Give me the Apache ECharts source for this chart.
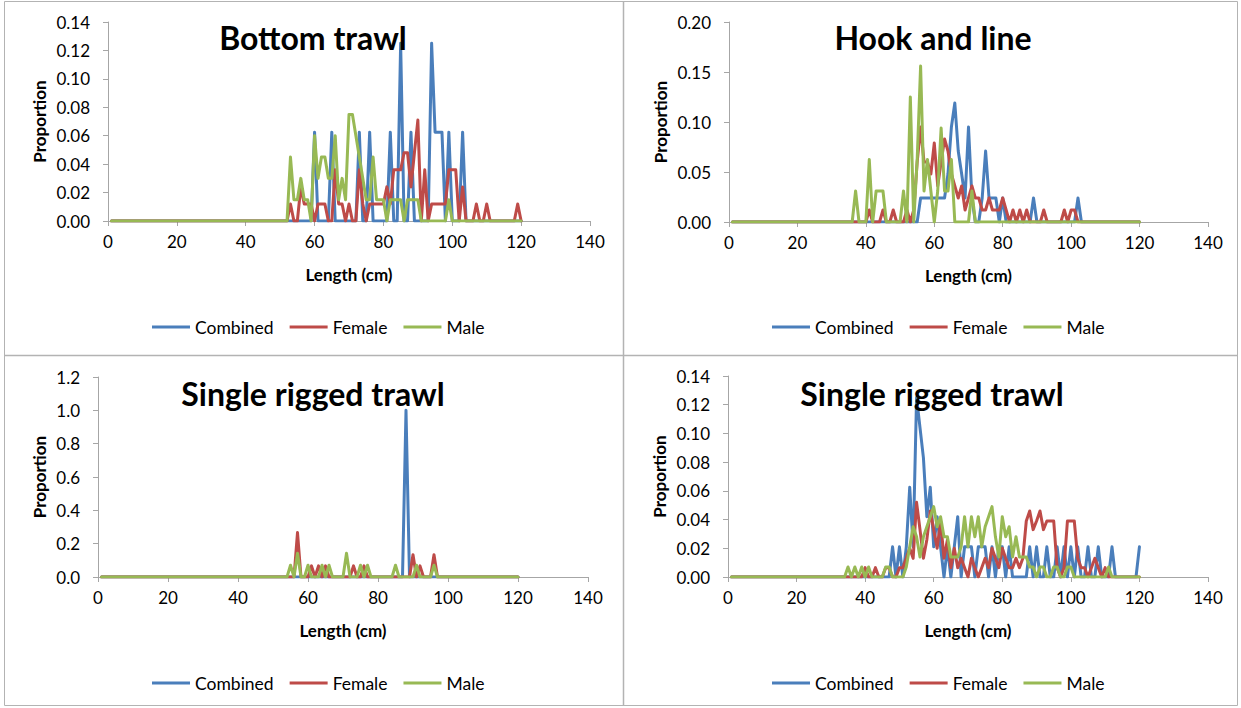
<!DOCTYPE html>
<html>
<head>
<meta charset="utf-8">
<script src="https://cdn.jsdelivr.net/npm/echarts@6/dist/echarts.min.js"></script>
<style>
  html, body { margin: 0; padding: 0; background: #ffffff; }
  #chart { width: 1241px; height: 708px; }
</style>
</head>
<body>
<div id="chart"></div>
<script>
// Length classes (cm)
const lengthsCm = [
  1,2,3,4,5,6,7,8,9,10, 11,12,13,14,15,16,17,18,19,20,
  21,22,23,24,25,26,27,28,29,30, 31,32,33,34,35,36,37,38,39,40,
  41,42,43,44,45,46,47,48,49,50, 51,52,53,54,55,56,57,58,59,60,
  61,62,63,64,65,66,67,68,69,70, 71,72,73,74,75,76,77,78,79,80,
  81,82,83,84,85,86,87,88,89,90, 91,92,93,94,95,96,97,98,99,100,
  101,102,103,104,105,106,107,108,109,110, 111,112,113,114,115,116,117,118,119,120
];

const seriesNames = ['Combined', 'Female', 'Male'];
const panelTitles = ['Bottom trawl', 'Hook and line', 'Single rigged trawl', 'Single rigged trawl'];
const xAxisTitle = 'Length (cm)';
const yAxisTitle = 'Proportion';

// Bottom trawl — proportion at length, rows of 10 length classes
const bottomTrawlCombined = [
  0,0,0,0,0,0,0,0,0,0, 0,0,0,0,0,0,0,0,0,0, 0,0,0,0,0,0,0,0,0,0, 0,0,0,0,0,0,0,0,0,0, 0,0,0,0,0,0,0,0,0,0,
  0,0,0,0,0,0,0,0,0,0.0625,
  0,0,0,0,0.0625,0,0,0,0,0,
  0,0,0.0625,0,0,0.0625,0,0,0,0,
  0,0.0625,0,0,0.125,0,0,0.0625,0,0,
  0,0,0,0.125,0.0625,0.0625,0.0625,0,0.0625,0,
  0,0,0.0625,0,0,0,0,0,0,0,
  0,0,0,0,0,0,0,0,0,0
];
const bottomTrawlFemale = [
  0,0,0,0,0,0,0,0,0,0, 0,0,0,0,0,0,0,0,0,0, 0,0,0,0,0,0,0,0,0,0, 0,0,0,0,0,0,0,0,0,0, 0,0,0,0,0,0,0,0,0,0,
  0,0,0.012,0,0,0.024,0.012,0.012,0.012,0,
  0.012,0.012,0.012,0,0,0.036,0.012,0.012,0,0.012,
  0,0,0.036,0.012,0,0.012,0.012,0.012,0.012,0.012,
  0.024,0.012,0.036,0.036,0.036,0.048,0.048,0.024,0.048,0.071,
  0,0.036,0,0.012,0.012,0.012,0.012,0.012,0.036,0.036,
  0.036,0,0.024,0,0,0,0.012,0,0,0.012,
  0,0,0,0,0,0,0,0,0.012,0
];
const bottomTrawlMale = [
  0,0,0,0,0,0,0,0,0,0, 0,0,0,0,0,0,0,0,0,0, 0,0,0,0,0,0,0,0,0,0, 0,0,0,0,0,0,0,0,0,0, 0,0,0,0,0,0,0,0,0,0,
  0,0,0.045,0.015,0.015,0.03,0.015,0.015,0,0.06,
  0.03,0.045,0.045,0.03,0.03,0.06,0.015,0.03,0.015,0.075,
  0.075,0.06,0.045,0.03,0.015,0.015,0.045,0.015,0.015,0.015,
  0,0.015,0.015,0.015,0.015,0,0.015,0.015,0.015,0.015,
  0,0,0,0,0,0,0,0,0.015,0,
  0,0,0,0,0,0,0,0,0,0,
  0,0,0,0,0,0,0,0,0,0
];

// Hook and line
const hookLineCombined = [
  0,0,0,0,0,0,0,0,0,0, 0,0,0,0,0,0,0,0,0,0, 0,0,0,0,0,0,0,0,0,0, 0,0,0,0,0,0,0,0,0,0, 0,0,0,0,0,0,0,0,0,0,
  0,0,0,0,0,0.024,0.024,0.024,0.024,0.024,
  0.024,0.024,0.024,0.048,0.095,0.119,0.071,0.048,0.024,0.095,
  0.024,0,0,0.024,0.071,0.024,0.024,0.024,0,0.024,
  0,0,0,0,0,0,0,0,0.024,0,
  0,0,0,0,0,0,0,0,0,0,
  0,0.024,0,0,0,0,0,0,0,0,
  0,0,0,0,0,0,0,0,0,0
];
const hookLineFemale = [
  0,0,0,0,0,0,0,0,0,0, 0,0,0,0,0,0,0,0,0,0, 0,0,0,0,0,0,0,0,0,0, 0,0,0,0,0,0,0,0,0,0,
  0.012,0,0,0,0.012,0,0,0.012,0,0,
  0,0.012,0,0.012,0.06,0.095,0.06,0.06,0.048,0.079,
  0.036,0.06,0.083,0.071,0.048,0.036,0.024,0.036,0.012,0.024,
  0.036,0.024,0.024,0.012,0.012,0.024,0.012,0.012,0.012,0.024,
  0.012,0,0.012,0,0.012,0,0.012,0,0,0,
  0,0.012,0,0,0,0,0,0.012,0,0.012,
  0.012,0,0,0,0,0,0,0,0,0,
  0,0,0,0,0,0,0,0,0,0
];
const hookLineMale = [
  0,0,0,0,0,0,0,0,0,0, 0,0,0,0,0,0,0,0,0,0, 0,0,0,0,0,0,0,0,0,0,
  0,0,0,0,0,0,0.031,0,0,0,
  0.0625,0,0.031,0.031,0.031,0,0,0,0,0,
  0.031,0,0.125,0,0.0625,0.156,0.031,0.0625,0.031,0,
  0.031,0.094,0.031,0.031,0.0625,0,0,0,0,0,
  0.031,0,0,0,0,0,0,0,0,0,
  0,0,0,0,0,0,0,0,0,0, 0,0,0,0,0,0,0,0,0,0, 0,0,0,0,0,0,0,0,0,0, 0,0,0,0,0,0,0,0,0,0
];

// Single rigged trawl (first panel)
const singleRiggedACombined = [
  0,0,0,0,0,0,0,0,0,0, 0,0,0,0,0,0,0,0,0,0, 0,0,0,0,0,0,0,0,0,0, 0,0,0,0,0,0,0,0,0,0,
  0,0,0,0,0,0,0,0,0,0, 0,0,0,0,0,0,0,0,0,0, 0,0,0,0,0,0,0,0,0,0, 0,0,0,0,0,0,0,0,0,0,
  0,0,0,0,0,0,0,1,0,0,
  0,0,0,0,0,0,0,0,0,0, 0,0,0,0,0,0,0,0,0,0, 0,0,0,0,0,0,0,0,0,0
];
const singleRiggedAFemale = [
  0,0,0,0,0,0,0,0,0,0, 0,0,0,0,0,0,0,0,0,0, 0,0,0,0,0,0,0,0,0,0, 0,0,0,0,0,0,0,0,0,0, 0,0,0,0,0,0,0,0,0,0,
  0,0,0,0,0,0,0.267,0,0,0,
  0.067,0,0.067,0,0.067,0,0,0,0,0,
  0,0,0.067,0,0,0.067,0,0,0,0,
  0,0,0,0,0,0,0,0,0,0.133,
  0,0.067,0,0,0,0.133,0,0,0,0,
  0,0,0,0,0,0,0,0,0,0, 0,0,0,0,0,0,0,0,0,0
];
const singleRiggedAMale = [
  0,0,0,0,0,0,0,0,0,0, 0,0,0,0,0,0,0,0,0,0, 0,0,0,0,0,0,0,0,0,0, 0,0,0,0,0,0,0,0,0,0, 0,0,0,0,0,0,0,0,0,0,
  0,0,0,0,0.071,0,0.143,0,0,0.071,
  0,0,0,0.071,0,0.071,0,0,0,0,
  0.143,0,0,0,0.071,0,0.071,0,0,0,
  0,0,0,0,0.071,0,0,0,0,0,
  0.071,0,0,0,0,0.071,0,0,0,0,
  0,0,0,0,0,0,0,0,0,0, 0,0,0,0,0,0,0,0,0,0
];

// Single rigged trawl (second panel)
const singleRiggedBCombined = [
  0,0,0,0,0,0,0,0,0,0, 0,0,0,0,0,0,0,0,0,0, 0,0,0,0,0,0,0,0,0,0, 0,0,0,0,0,0,0,0,0,0,
  0,0,0,0,0,0,0,0.021,0,0.021,
  0,0.021,0.0625,0.021,0.125,0.104,0.083,0.042,0.0625,0.021,
  0.042,0.021,0,0.021,0,0.021,0.042,0,0.021,0.021,
  0.021,0,0.021,0.021,0.021,0,0.021,0,0.021,0.021,
  0,0.021,0,0,0,0,0,0.021,0,0.021,
  0,0,0.021,0,0,0.021,0,0.021,0,0.021,
  0,0.021,0,0,0.021,0,0,0.021,0,0,
  0,0.021,0,0,0,0,0,0,0,0.021
];
const singleRiggedBFemale = [
  0,0,0,0,0,0,0,0,0,0, 0,0,0,0,0,0,0,0,0,0, 0,0,0,0,0,0,0,0,0,0,
  0,0,0,0,0,0,0,0,0,0.0065,
  0,0,0.0065,0,0,0.0065,0.0065,0,0,0.0065,
  0.0065,0.013,0.02,0.013,0.052,0.033,0.013,0.026,0.046,0.033,
  0.02,0.039,0.013,0.026,0.0065,0.02,0.0065,0.013,0.0065,0,
  0.013,0.0065,0,0.0065,0.013,0.0065,0.02,0.013,0.0065,0.02,
  0.013,0.0065,0.0065,0.013,0.0065,0.013,0.039,0.046,0.033,0.039,
  0.046,0.033,0.039,0.039,0.039,0.0065,0,0.0065,0.039,0.039,
  0.039,0.013,0.0065,0.0065,0,0.0065,0.013,0.0065,0,0.0065,
  0,0,0,0,0,0,0,0,0,0
];
const singleRiggedBMale = [
  0,0,0,0,0,0,0,0,0,0, 0,0,0,0,0,0,0,0,0,0, 0,0,0,0,0,0,0,0,0,0,
  0,0,0,0,0.007,0,0.007,0,0.007,0,
  0.007,0,0,0,0,0.007,0.007,0,0,0,
  0,0.007,0.021,0.035,0.028,0.014,0.028,0.035,0.042,0.049,
  0.035,0.042,0.028,0.028,0.014,0.014,0.014,0.021,0.042,0.021,
  0.042,0.028,0.042,0.021,0.035,0.042,0.049,0.028,0.014,0.042,
  0.028,0.035,0.014,0.028,0.014,0.014,0.014,0.007,0.007,0,
  0.007,0.007,0,0,0.007,0.007,0,0,0.007,0.007,
  0,0,0,0,0,0,0,0,0,0,
  0.007,0,0,0,0,0,0,0,0,0
];

const panelData = [
  [bottomTrawlCombined, bottomTrawlFemale, bottomTrawlMale],
  [hookLineCombined, hookLineFemale, hookLineMale],
  [singleRiggedACombined, singleRiggedAFemale, singleRiggedAMale],
  [singleRiggedBCombined, singleRiggedBFemale, singleRiggedBMale]
];

// Layout of the four plots (pixels) and their y scales
const panelLayout = [
  { left: 108, top: 22,  width: 482, height: 199, yMax: 0.14, yStep: 0.02, digits: 2, cx: 313, cy: 37,  legendLeft: 147, legendTop: 313, nameGap: 60 },
  { left: 729, top: 22,  width: 479, height: 200, yMax: 0.20, yStep: 0.05, digits: 2, cx: 933, cy: 37,  legendLeft: 767, legendTop: 313, nameGap: 60 },
  { left: 98,  top: 377, width: 490, height: 200, yMax: 1.2,  yStep: 0.2,  digits: 1, cx: 313, cy: 393, legendLeft: 147, legendTop: 669, nameGap: 50 },
  { left: 728, top: 376, width: 480, height: 201, yMax: 0.14, yStep: 0.02, digits: 2, cx: 932, cy: 393, legendLeft: 767, legendTop: 669, nameGap: 60 }
];

const lineColors = ['#4a7ebb', '#be4b48', '#98b954'];
const axisGray = '#a6a6a6';
const borderGray = '#b3b3b3';
const fontFamily = 'Lato, "Open Sans", sans-serif';

const grids = [], xAxes = [], yAxes = [], series = [], legends = [], graphics = [];

panelLayout.forEach((p, i) => {
  grids.push({ left: p.left, top: p.top, width: p.width, height: p.height, containLabel: false });
  xAxes.push({
    type: 'value', gridIndex: i, min: 0, max: 140, interval: 20,
    name: xAxisTitle, nameLocation: 'middle', nameGap: 45,
    nameTextStyle: { fontFamily, fontSize: 17, fontWeight: 'bold', color: '#000' },
    axisLine: { show: true, lineStyle: { color: axisGray, width: 1 } },
    axisTick: { show: true, length: 5, lineStyle: { color: axisGray } },
    axisLabel: { fontFamily, fontSize: 17, color: '#000', margin: 12 },
    splitLine: { show: false }
  });
  yAxes.push({
    type: 'value', gridIndex: i, min: 0, max: p.yMax, interval: p.yStep,
    name: yAxisTitle, nameLocation: 'middle', nameRotate: 90, nameGap: p.nameGap,
    nameTextStyle: { fontFamily, fontSize: 17, fontWeight: 'bold', color: '#000' },
    axisLine: { show: true, lineStyle: { color: axisGray, width: 1 } },
    axisTick: { show: true, length: 5, lineStyle: { color: axisGray } },
    axisLabel: { fontFamily, fontSize: 17, color: '#000', margin: 18,
                 formatter: v => v.toFixed(p.digits) },
    splitLine: { show: false }
  });
  panelData[i].forEach((values, k) => {
    series.push({
      name: seriesNames[k], type: 'line', xAxisIndex: i, yAxisIndex: i,
      data: lengthsCm.map((len, j) => [len, values[j]]),
      showSymbol: false, symbol: 'none', smooth: false,
      lineStyle: { color: lineColors[k], width: 3, join: 'round', cap: 'round' },
      itemStyle: { color: lineColors[k] },
      emphasis: { disabled: true },
      z: 2 + k
    });
  });
  legends.push({
    data: seriesNames, left: p.legendLeft, top: p.legendTop,
    icon: 'rect', itemWidth: 38, itemHeight: 3, itemGap: 16,
    textStyle: { fontFamily, fontSize: 17.5, color: '#000' },
    selectedMode: false
  });
  graphics.push({
    type: 'text', x: p.cx, y: p.cy, z: 10,
    style: { text: panelTitles[i], fill: '#000', font: 'bold 32px ' + fontFamily,
             textAlign: 'center', textVerticalAlign: 'middle' }
  });
});

// Frame around the four plots
graphics.push(
  { type: 'rect', shape: { x: 4.5, y: 1.5, width: 1233, height: 704 },
    style: { fill: 'none', stroke: borderGray, lineWidth: 1 } },
  { type: 'line', shape: { x1: 623.5, y1: 1.5, x2: 623.5, y2: 705.5 },
    style: { stroke: borderGray, lineWidth: 1.5 } },
  { type: 'line', shape: { x1: 4.5, y1: 355.5, x2: 1237.5, y2: 355.5 },
    style: { stroke: borderGray, lineWidth: 1.5 } }
);

const chart = echarts.init(document.getElementById('chart'), null, { renderer: 'svg' });
chart.setOption({
  backgroundColor: '#ffffff',
  animation: false,
  grid: grids,
  xAxis: xAxes,
  yAxis: yAxes,
  legend: legends,
  series: series,
  graphic: graphics
});
</script>
</body>
</html>
